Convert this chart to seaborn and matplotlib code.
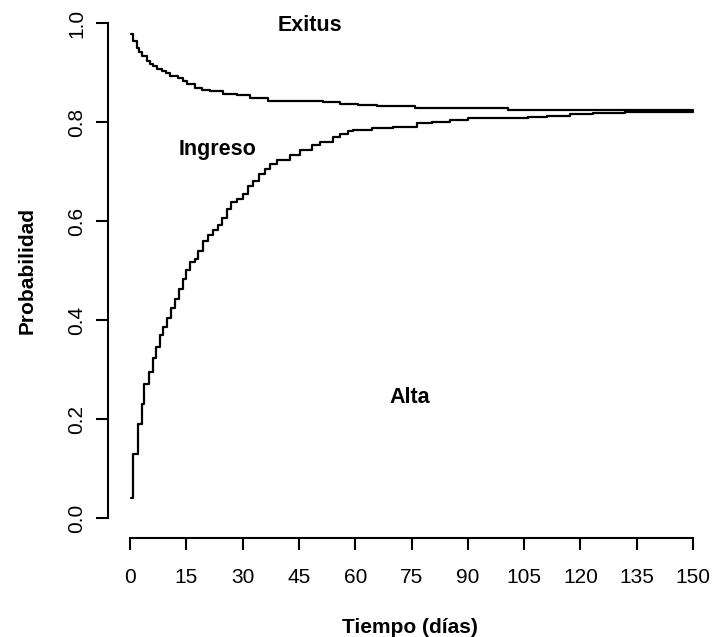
import matplotlib
matplotlib.use("Agg")
import matplotlib.pyplot as plt
import seaborn as sns
import pandas as pd

# Cumulative boundary between "Alta" and "Ingreso" (steps-post)
alta_t = [0.3, 0.9, 2.0, 3.1, 3.8, 5.1, 6.0, 6.9, 8.0, 8.9, 9.8, 10.9, 12.0, 13.1,
          14.2, 14.9, 16.0, 17.3, 18.2, 19.5, 20.9, 22.2, 23.5, 24.4, 25.8, 26.8,
          28.4, 30.2, 31.5, 32.9, 34.5, 36.0, 37.3, 39.1, 42.6, 45.3, 48.4, 50.6,
          54.2, 56.0, 58.0, 59.5, 64.4, 70.2, 76.4, 80.4, 85.3, 90.1, 106.0, 111.0,
          117.2, 123.4, 131.9, 150.0]
alta_v = [0.04, 0.13, 0.19, 0.23, 0.27, 0.295, 0.324, 0.345, 0.369, 0.386, 0.405,
          0.424, 0.443, 0.463, 0.483, 0.501, 0.517, 0.524, 0.540, 0.560, 0.571,
          0.581, 0.591, 0.607, 0.624, 0.638, 0.645, 0.655, 0.671, 0.681, 0.695,
          0.705, 0.715, 0.723, 0.734, 0.743, 0.754, 0.759, 0.769, 0.776, 0.781,
          0.784, 0.788, 0.790, 0.797, 0.801, 0.805, 0.808, 0.810, 0.813, 0.816,
          0.819, 0.821, 0.822]

# Cumulative boundary between "Ingreso" and "Exitus" (steps-post)
exitus_t = [0.3, 0.9, 1.8, 2.5, 3.1, 4.4, 5.3, 6.2, 7.3, 8.4, 9.5, 10.7, 12.9,
            14.0, 15.1, 17.3, 19.3, 21.3, 24.9, 28.4, 32.0, 36.9, 51.5, 56.0,
            60.8, 65.7, 75.9, 100.8, 150.0]
exitus_v = [0.978, 0.964, 0.950, 0.941, 0.933, 0.923, 0.918, 0.913, 0.908, 0.903,
            0.898, 0.893, 0.888, 0.882, 0.876, 0.868, 0.865, 0.863, 0.857, 0.854,
            0.849, 0.842, 0.840, 0.837, 0.835, 0.832, 0.828, 0.825, 0.824]

x_ticks = [0, 15, 30, 45, 60, 75, 90, 105, 120, 135, 150]
y_ticks = [0.0, 0.2, 0.4, 0.6, 0.8, 1.0]
y_tick_labels = ["0.0", "0.2", "0.4", "0.6", "0.8", "1.0"]

region_labels = ["Exitus", "Ingreso", "Alta"]
region_x = [48.0, 23.2, 74.6]
region_y = [0.994, 0.744, 0.244]

sns.set_style("ticks")
plt.rcParams["font.family"] = ["Liberation Sans", "DejaVu Sans"]
plt.rcParams["text.color"] = "black"
plt.rcParams["axes.labelcolor"] = "black"
plt.rcParams["xtick.color"] = "black"
plt.rcParams["ytick.color"] = "black"
plt.rcParams["axes.edgecolor"] = "black"

W, H = 712, 637
fig = plt.figure(figsize=(W / 100, H / 100), dpi=100)
left_px, right_px, top_px, bottom_px = 107.5, 712.0, 3.2, 538.0
ax = fig.add_axes([left_px / W, 1 - bottom_px / H,
                   (right_px - left_px) / W, (bottom_px - top_px) / H])

df_alta = pd.DataFrame({"t": alta_t, "v": alta_v})
df_exit = pd.DataFrame({"t": exitus_t, "v": exitus_v})
sns.lineplot(data=df_alta, x="t", y="v", drawstyle="steps-post", estimator=None,
             color="black", linewidth=1.6, ax=ax)
sns.lineplot(data=df_exit, x="t", y="v", drawstyle="steps-post", estimator=None,
             color="black", linewidth=1.6, ax=ax)

# x scale: 0 -> px 130, 150 -> px 693
ppd = (693 - 130) / 150.0
ax.set_xlim(-(130 - left_px) / ppd, (right_px - 130) / ppd)
ppu = 495.0
ax.set_ylim(-(bottom_px - 518) / ppu, (518 - top_px) / ppu)

for s in ["top", "right"]:
    ax.spines[s].set_visible(False)
ax.spines["left"].set_bounds(0, 1)
ax.spines["bottom"].set_bounds(0, 150)
for s in ["left", "bottom"]:
    ax.spines[s].set_linewidth(1.5)

ax.set_xticks(x_ticks)
ax.set_xticklabels([str(v) for v in x_ticks], fontsize=15)
ax.set_yticks(y_ticks)
ax.set_yticklabels(y_tick_labels, fontsize=15, rotation=90, va="center")
ax.tick_params(axis="both", direction="out", length=8.6, width=1.5, color="black")
ax.tick_params(axis="x", pad=13)
ax.tick_params(axis="y", pad=6.5)

ax.set_xlabel("Tiempo (días)", fontsize=15, fontweight="bold", labelpad=22)
ax.set_ylabel("Probabilidad", fontsize=15, fontweight="bold", labelpad=22)

for lab, x, y in zip(region_labels, region_x, region_y):
    ax.text(x, y, lab, fontsize=15.5, fontweight="bold", ha="center", va="center")

fig.savefig("out.png", dpi=100)
